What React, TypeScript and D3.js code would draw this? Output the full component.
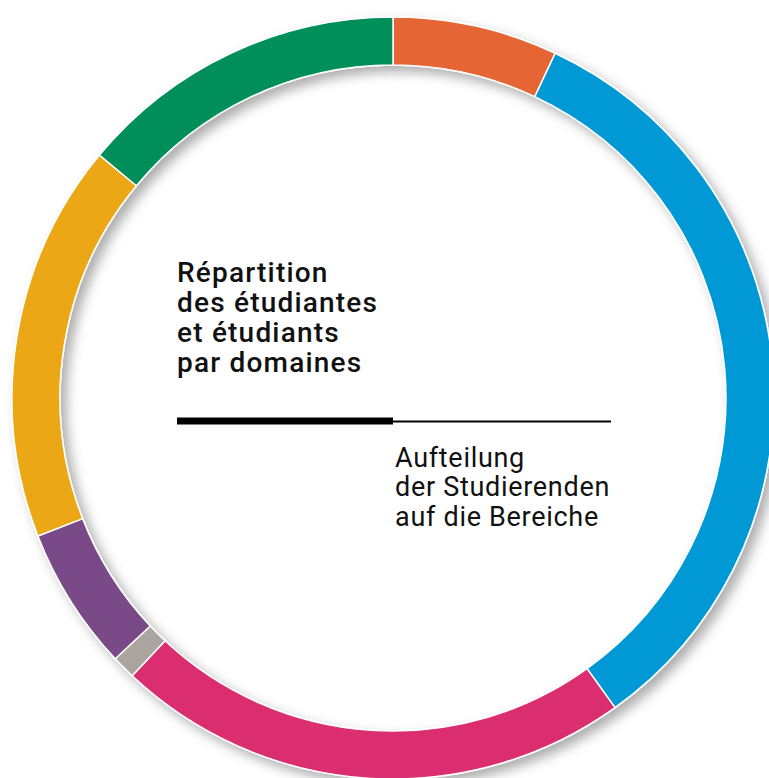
import React from "react";
import * as d3 from "d3";

const domains = ["orange", "blue", "pink", "gray", "purple", "yellow", "green"];
const shares = [7.0, 33.1, 21.9, 1.0, 6.1, 16.9, 14.0];
const colors = ["#e56535", "#0099d5", "#da2f6f", "#aaa59e", "#7a4a88", "#eba712", "#008f5a"];

const titleFr = ["Répartition", "des étudiantes", "et étudiants", "par domaines"];
const titleDe = ["Aufteilung", "der Studierenden", "auf die Bereiche"];

export default function App() {
  const W = 769;
  const H = 778;
  const cx = 393;
  const cy = 398;
  const outerR = 381;
  const innerR = 333;

  const data = domains.map((d, i) => ({ key: d, value: shares[i], color: colors[i] }));
  const pie = d3
    .pie<{ key: string; value: number; color: string }>()
    .sort(null)
    .value((d) => d.value)
    .startAngle(0)
    .endAngle(2 * Math.PI);
  const arc = d3
    .arc<d3.PieArcDatum<{ key: string; value: number; color: string }>>()
    .innerRadius(innerR)
    .outerRadius(outerR);
  const arcs = pie(data);

  return (
    <svg
      width={W}
      height={H}
      style={{ position: "absolute", left: 0, top: 0, display: "block", background: "#fff" }}
    >
      <defs>
        <filter id="shadow" x="-20%" y="-20%" width="140%" height="140%">
          <feDropShadow dx="6" dy="6" stdDeviation="6" floodColor="#000" floodOpacity="0.32" />
        </filter>
      </defs>
      <rect x={0} y={0} width={W} height={H} fill="#fff" />
      <g transform={`translate(${cx},${cy})`} filter="url(#shadow)">
        {arcs.map((a) => (
          <path key={a.data.key} d={arc(a) || ""} fill={a.data.color} stroke="#fff" strokeWidth={1.5} />
        ))}
      </g>
      <g fontFamily="Roboto, 'Open Sans', sans-serif" fill="#111">
        {titleFr.map((t, i) => (
          <text key={t} x={177} y={281.5 + i * 30.2} fontSize={28} fontWeight={500} letterSpacing={1.2}>
            {t}
          </text>
        ))}
        {titleDe.map((t, i) => (
          <text key={t} x={395} y={466.5 + i * 29.6} fontSize={27} fontWeight={400} letterSpacing={0.7}>
            {t}
          </text>
        ))}
      </g>
      <line x1={177} x2={393} y1={421} y2={421} stroke="#000" strokeWidth={7} />
      <line x1={393} x2={611} y1={421.5} y2={421.5} stroke="#000" strokeWidth={2} />
    </svg>
  );
}
